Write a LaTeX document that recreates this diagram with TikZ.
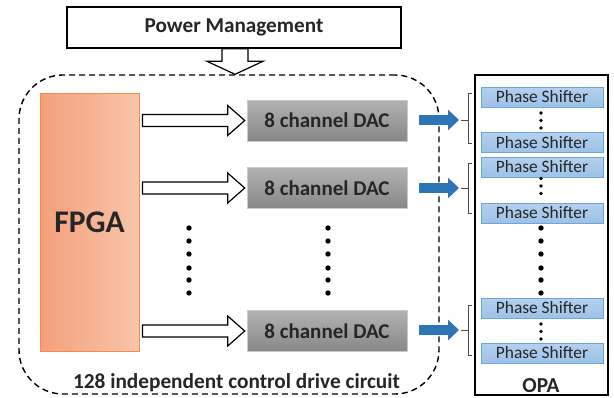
\documentclass[tikz,border=0pt]{standalone}
\usepackage{fontspec}
\setmainfont{Carlito}
\usetikzlibrary{arrows.meta,calc}
\definecolor{fpgaL}{HTML}{F4A07A}
\definecolor{fpgaR}{HTML}{F8C4AA}
\definecolor{fpgaB}{HTML}{F08C56}
\definecolor{dacT}{HTML}{B2B2B2}
\definecolor{dacB}{HTML}{878787}
\definecolor{dacE}{HTML}{C9C9C9}
\definecolor{psT}{HTML}{B4D0EE}
\definecolor{psB}{HTML}{9CC2E8}
\definecolor{psE}{HTML}{6FA6DA}
\definecolor{barrow}{HTML}{2E75B6}
\definecolor{txt}{HTML}{262626}
\tikzset{
  pmbox/.style={draw=black,line width=1.3pt,fill=white,minimum width=334pt,minimum height=41pt,inner sep=0pt,font=\bfseries\fontsize{21.2}{23}\selectfont,text=txt},
  ctrlbox/.style={draw=black,line width=1.4pt,dash pattern=on 6pt off 4pt,rounded corners=44pt,minimum width=420pt,minimum height=319pt,inner sep=0pt},
  fpgabox/.style={draw=fpgaB,line width=0.8pt,left color=fpgaL,right color=fpgaR,minimum width=99pt,minimum height=258pt,inner sep=0pt,font=\bfseries\fontsize{31.5}{33}\selectfont,text=txt},
  dacbox/.style={draw=dacE,line width=0.6pt,top color=dacT,bottom color=dacB,minimum width=160pt,minimum height=41pt,inner sep=0pt,font=\bfseries\fontsize{21}{22}\selectfont,text=txt},
  opabox/.style={draw=black,line width=1.4pt,minimum width=133pt,minimum height=320pt,inner sep=0pt},
  psbox/.style={draw=psE,line width=0.6pt,top color=psT,bottom color=psB,minimum width=122pt,minimum height=20pt,inner sep=0pt,font=\fontsize{17.4}{18}\selectfont,text=txt},
  hollow/.style={draw=black,line width=1.2pt,fill=white,line join=miter},
  bluearrow/.style={draw=barrow,line width=10pt,-{Triangle[length=11pt,width=20pt]}},
  brack/.style={draw=black!70,line width=0.7pt},
  lbl/.style={font=\bfseries\fontsize{21.3}{23}\selectfont,text=txt,inner sep=0pt,anchor=base},
}
\newcommand\harrow[2]{%
  \draw[hollow] let \p1=#1, \p2=#2 in
    (\x1,\y1+6pt) -- (\x2-17pt,\y1+6pt) -- (\x2-17pt,\y1+15pt) -- (\x2,\y1)
    -- (\x2-17pt,\y1-15pt) -- (\x2-17pt,\y1-6pt) -- (\x1,\y1-6pt) -- cycle;}
\begin{document}
\begin{tikzpicture}[x=1pt,y=-1pt]
\useasboundingbox (0,0) rectangle (614,397);
% control circuit dashed box
\node[ctrlbox] (ctrl) at (229,234.5) {};
% power management
\node[pmbox] (pm) at (234,27.5) {Power Management};
\draw[hollow] let \p1=($(pm.south)+(1,0)$), \p2=(pm.south |- ctrl.north) in
  (\x1-13pt,\y1) -- (\x1+13pt,\y1) -- (\x1+13pt,\y2+13pt) -- (\x1+28pt,\y2+13pt)
  -- (\x1,\y2) -- (\x1-28pt,\y2+13pt) -- (\x1-13pt,\y2+13pt) -- cycle;
% FPGA
\node[fpgabox] (fpga) at (89.5,222) {FPGA};
% DACs
\node[dacbox] (d1) at (327,120.5) {8 channel DAC};
\node[dacbox] (d2) at (327,188) {8 channel DAC};
\node[dacbox] (d3) at (327,331) {8 channel DAC};
\harrow{($(fpga.east|-d1.west)+(3,0)$)}{($(d1.west)+(-2,0)$)}
\harrow{($(fpga.east|-d2.west)+(3,0)$)}{($(d2.west)+(-2,0)$)}
\harrow{($(fpga.east|-d3.west)+(3,0)$)}{($(d3.west)+(-2,0)$)}
% vertical dots
\foreach \yy in {228,241,254,268,280,293}{
  \fill[black] (189,\yy) circle (2.7pt);
  \fill[black] (328,\yy) circle (2.7pt);
  \fill[black] (541,\yy) circle (2.7pt);
}
% label
\node[lbl] (clabel) at (236.5,388) {128 independent control drive circuit};
% OPA
\node[opabox] (opa) at (541.5,235) {};
\node[lbl] (opalabel) at (541,392) {OPA};
\node[psbox] (p1) at (542,97) {Phase Shifter};
\node[psbox] (p2) at (542,142.5) {Phase Shifter};
\node[psbox] (p3) at (542,167) {Phase Shifter};
\node[psbox] (p4) at (542,213) {Phase Shifter};
\node[psbox] (p5) at (542,308) {Phase Shifter};
\node[psbox] (p6) at (542,353) {Phase Shifter};
\foreach \yy in {113,120.5,128,178.5,186,193.5,324,331.5,339}{
  \fill[black] (541,\yy) circle (1.8pt);
}
% brackets and blue arrows
\coordinate (b1) at (468,120);
\coordinate (b2) at (468,188);
\coordinate (b3) at (468,330);
\draw[brack] (472,93) -- (468,93) -- (468,143) -- (472,143);
\draw[brack] (472,163) -- (468,163) -- (468,213) -- (472,213);
\draw[brack] (472,305) -- (468,305) -- (468,355) -- (472,355);
\draw[brack] (b1) -- ++(-7,0);
\draw[brack] (b2) -- ++(-7,0);
\draw[brack] (b3) -- ++(-7,0);
\draw[bluearrow] ($(d1.east |- b1)+(12,0)$) -- ($(b1)+(-9,0)$);
\draw[bluearrow] ($(d2.east |- b2)+(12,0)$) -- ($(b2)+(-9,0)$);
\draw[bluearrow] ($(d3.east |- b3)+(12,0)$) -- ($(b3)+(-9,0)$);
\end{tikzpicture}
\end{document}
